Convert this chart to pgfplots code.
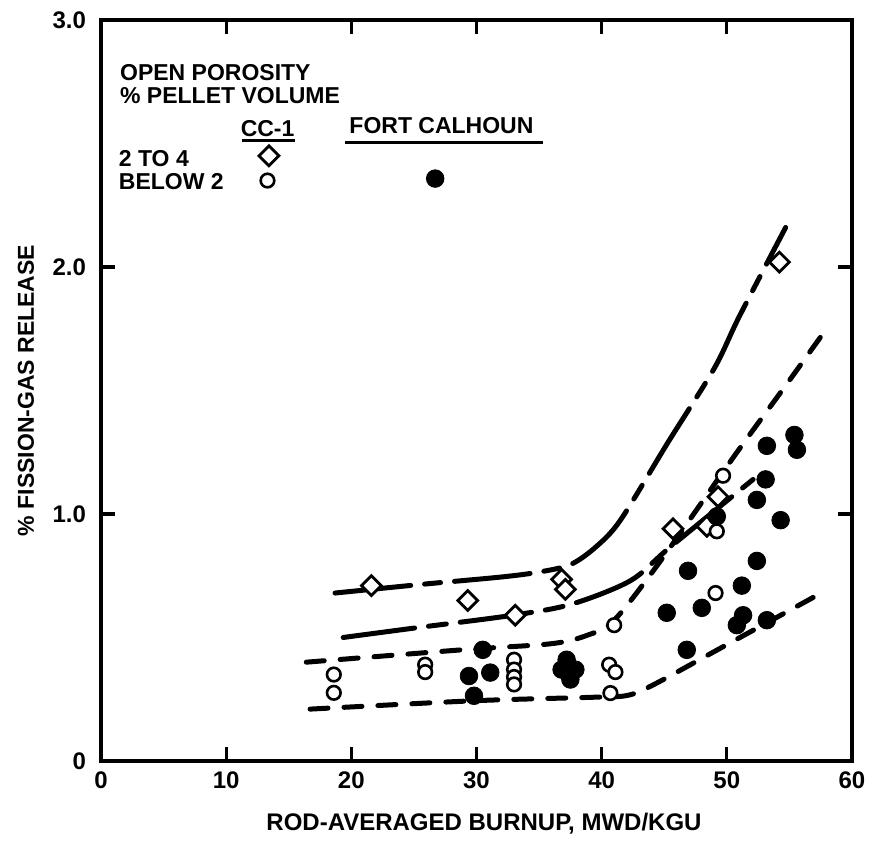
\documentclass[border=0pt]{standalone}
\usepackage{pgfplots}
\pgfplotsset{compat=1.18}
\usepackage{fontspec}
\setmainfont{Liberation Sans}
\begin{document}
\begin{tikzpicture}
\useasboundingbox (-50.5pt,-47.5pt) rectangle (384pt,380.5pt);
\begin{axis}[
  at={(0,0)}, anchor=south west, scale only axis,
  width=375.5pt, height=370.5pt,
  xmin=0, xmax=60, ymin=0, ymax=3,
  xtick={0,10,...,60}, ytick={0,1,2,3}, yticklabels={0,1.0,2.0,3.0},
  tick align=inside, xtick pos=both, ytick pos=both,
  xticklabel pos=lower, yticklabel pos=left,
  major tick length=7pt,
  axis line style={line width=1.6pt},
  tick style={line width=1.6pt, black},
  /pgf/number format/assume math mode=true,
  ticklabel style={font=\fontsize{12}{14}\selectfont\bfseries},
  xticklabel style={yshift=-2pt},
  yticklabel style={xshift=-4pt},
  xlabel={ROD-AVERAGED BURNUP, MWD/KGU},
  ylabel={\% FISSION-GAS RELEASE},
  xlabel style={font=\fontsize{12}{14}\selectfont\bfseries, at={(axis description cs:0.51,-0.085)}, anchor=center},
  ylabel style={font=\fontsize{11.5}{13}\selectfont\bfseries, at={(axis description cs:-0.1,0.5)}, anchor=center},
  clip=false,
]
% curve A (upper band)
\addplot[no marks, line width=2.5pt, line cap=round, smooth,
  dash pattern=on 38pt off 7pt on 8pt off 7pt] coordinates {
  (18.7,0.68) (25.8,0.716) (32,0.745) (35,0.765) (37.5,0.795) (39.5,0.865) (41.5,0.975)
  (45.3,1.29) (49.0,1.59) (51.0,1.80) (54.7,2.16)};
% curve B
\addplot[no marks, line width=2.5pt, line cap=round, smooth,
  dash pattern=on 36pt off 7pt on 9pt off 7pt] coordinates {
  (19.35,0.50) (25.3,0.54) (32.9,0.59) (37.6,0.635) (42.3,0.73) (45.45,0.865) (52.1,1.14)};
% curve C
\addplot[no marks, line width=2.5pt, line cap=round, smooth,
  dash pattern=on 9pt off 8pt] coordinates {
  (16.4,0.40) (28.8,0.45) (36,0.475) (38.9,0.51) (41.0,0.57) (44.7,0.81)
  (50.6,1.235) (54.7,1.52) (58.05,1.756)};
% curve D
\addplot[no marks, line width=2.5pt, line cap=round, smooth,
  dash pattern=on 9pt off 8pt] coordinates {
  (16.7,0.21) (29.85,0.244) (39.3,0.258) (42,0.265) (44,0.305) (49.5,0.457) (57.9,0.69)};

% CC-1, porosity 2 to 4 (diamonds)
\addplot[only marks, mark=square*, mark size=3.5pt,
  mark options={rotate=45, draw=black, fill=white, line width=1.4pt}] coordinates {
  (21.6,0.71) (29.3,0.65) (33.1,0.59) (36.8,0.735) (37.1,0.695)
  (45.7,0.94) (48.4,0.95) (49.3,1.07) (54.2,2.02) (13.42,2.45)};
% CC-1, porosity below 2 (open circles)
\addplot[only marks, mark=*, mark size=3.4pt,
  mark options={draw=black, fill=white, line width=1.3pt}] coordinates {
  (18.6,0.35) (18.6,0.276) (25.9,0.39) (25.9,0.36)
  (33.0,0.41) (33.0,0.37) (33.0,0.34) (33.0,0.31)
  (41.0,0.55) (40.6,0.39) (41.1,0.36) (40.7,0.275)
  (49.7,1.155) (49.2,0.93) (49.1,0.68) (13.3,2.35)};
% Fort Calhoun (filled circles)
\addplot[only marks, mark=*, mark size=4.4pt, mark options={draw=black, fill=black}] coordinates {
  (30.5,0.45) (29.4,0.344) (31.1,0.358) (29.8,0.264)
  (37.2,0.41) (36.8,0.37) (37.9,0.37) (37.5,0.33)
  (55.4,1.32) (55.6,1.26) (53.2,1.276) (53.1,1.14) (52.4,1.057) (54.3,0.975)
  (49.2,0.99) (46.9,0.77) (52.4,0.81) (51.2,0.71) (45.2,0.60) (48.0,0.62)
  (51.3,0.59) (50.8,0.55) (53.2,0.57) (46.8,0.45) (26.7,2.358)};

% legend text
\node[anchor=west, inner sep=0pt, font=\fontsize{11.5}{13}\selectfont\bfseries] at (axis cs:1.5,2.788) {OPEN POROSITY};
\node[anchor=west, inner sep=0pt, font=\fontsize{11.5}{13}\selectfont\bfseries] at (axis cs:1.5,2.696) {\% PELLET VOLUME};
\node[anchor=center, inner sep=0pt, font=\fontsize{11.5}{13}\selectfont\bfseries] at (axis cs:13.31,2.562) {CC-1};
\node[anchor=center, inner sep=0pt, font=\fontsize{11.5}{13}\selectfont\bfseries] at (axis cs:27.2,2.573) {FORT CALHOUN};
\draw[line width=1.4pt] (axis cs:11.25,2.512) -- (axis cs:15.5,2.512);
\draw[line width=1.4pt] (axis cs:19.5,2.504) -- (axis cs:35.3,2.504);
\node[anchor=west, inner sep=0pt, font=\fontsize{11.5}{13}\selectfont\bfseries] at (axis cs:1.4,2.438) {2 TO 4};
\node[anchor=west, inner sep=0pt, font=\fontsize{11.5}{13}\selectfont\bfseries] at (axis cs:1.4,2.345) {BELOW 2};
\end{axis}
\end{tikzpicture}
\end{document}
